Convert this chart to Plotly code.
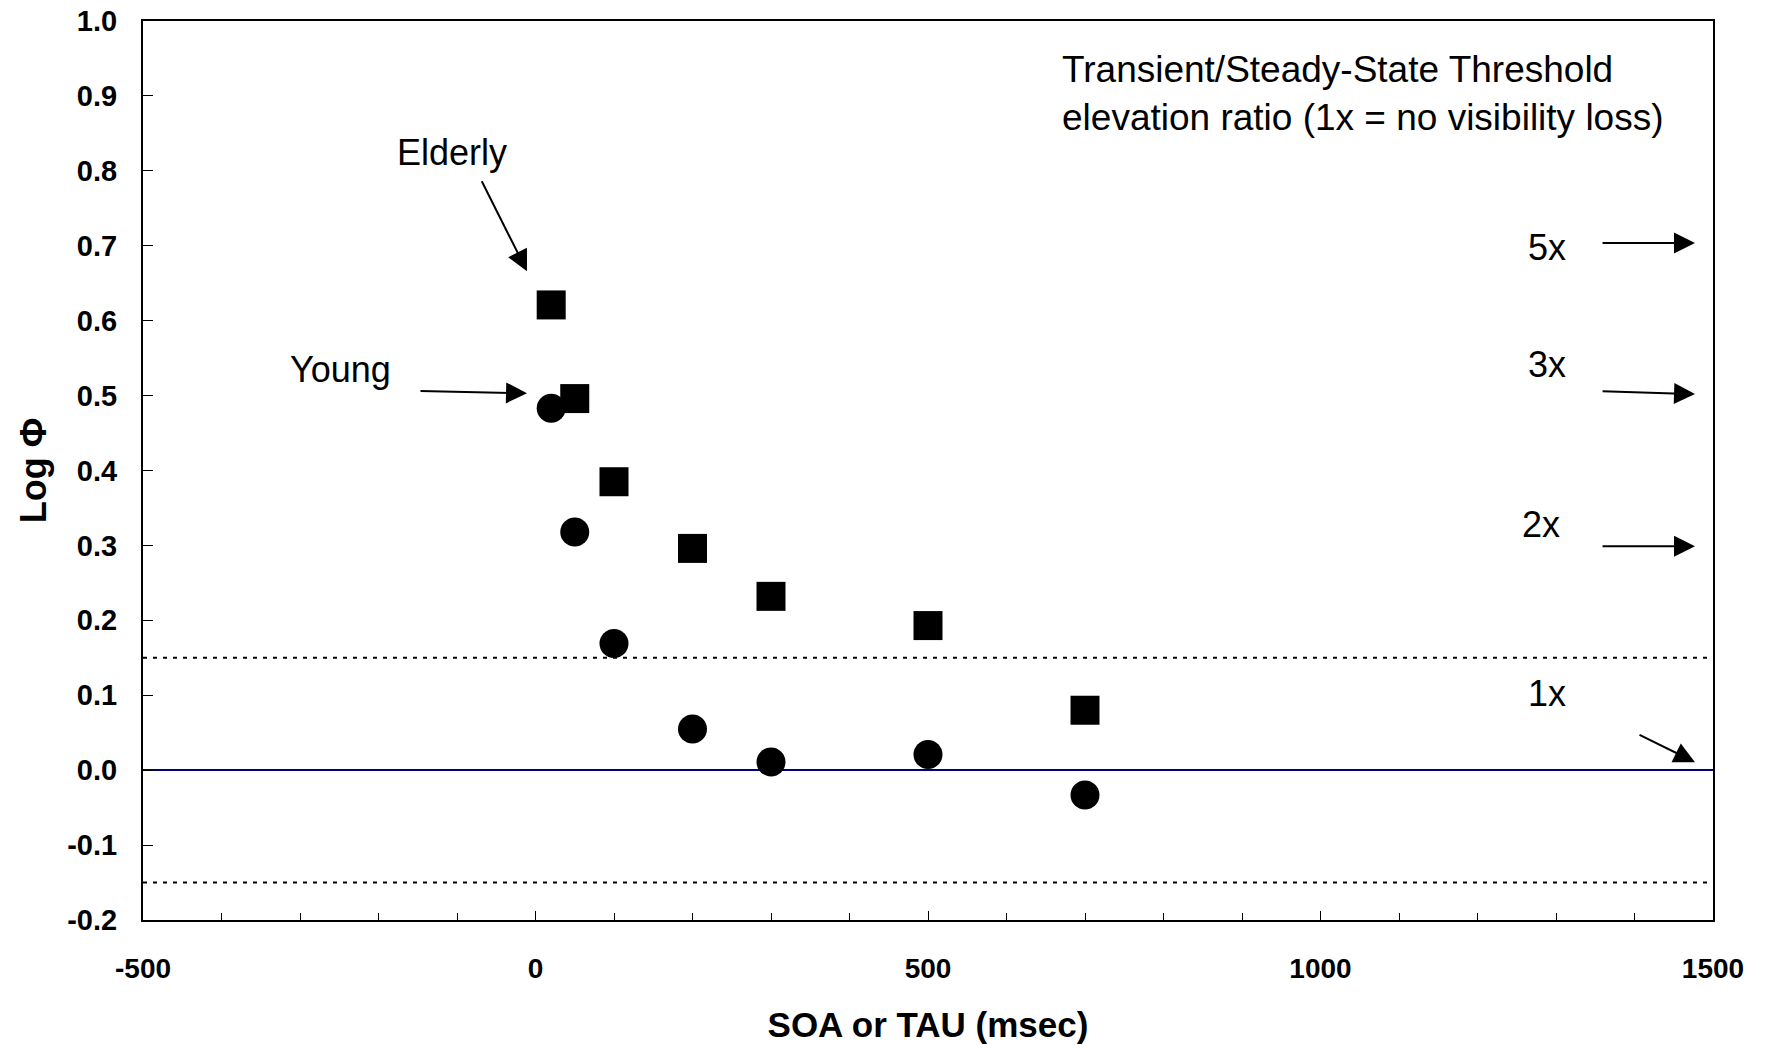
import plotly.graph_objects as go

# Stimulus onset asynchrony / tau values (msec) and the measured Log Phi
soa_ms = [20, 50, 100, 200, 300, 500, 700]
elderly_log_phi = [0.621, 0.496, 0.385, 0.296, 0.232, 0.193, 0.080]
young_log_phi = [0.483, 0.318, 0.169, 0.055, 0.011, 0.021, -0.033]

# Axis ticks
x_tick_values = [-500, 0, 500, 1000, 1500]
x_tick_labels = ["-500", "0", "500", "1000", "1500"]
y_tick_values = [-0.2, -0.1, 0.0, 0.1, 0.2, 0.3, 0.4, 0.5, 0.6, 0.7, 0.8, 0.9, 1.0]
y_tick_labels = ["-0.2", "-0.1", "0.0", "0.1", "0.2", "0.3", "0.4",
                 "0.5", "0.6", "0.7", "0.8", "0.9", "1.0"]

# No-loss band limits (Log Phi)
band_limits = [-0.15, 0.15]

# Threshold elevation ratio markers
ratio_labels = ["5x", "3x", "2x", "1x"]

FONT = "Liberation Sans, Arial, sans-serif"

fig = go.Figure()

fig.add_trace(go.Scatter(
    x=soa_ms, y=elderly_log_phi, mode="markers", name="Elderly",
    marker=dict(symbol="square", size=29, color="black"),
))
fig.add_trace(go.Scatter(
    x=soa_ms, y=young_log_phi, mode="markers", name="Young",
    marker=dict(symbol="circle", size=29, color="black"),
))

# Dotted band lines
for lim in band_limits:
    fig.add_shape(type="line", xref="x domain", yref="y", x0=0, x1=1, y0=lim, y1=lim,
                  line=dict(color="black", width=2, dash="4px,6px"), layer="below")

annotations = []

# Group labels with arrows
arrow_style = dict(showarrow=True, arrowhead=2, arrowsize=2.1, arrowwidth=2,
                   arrowcolor="black", axref="x", ayref="y", standoff=0, text="")
annotations.append(dict(x=-10.8, y=0.666, ax=-69.4, ay=0.788, **arrow_style))
annotations.append(dict(x=-10.8, y=0.503, ax=-148.4, ay=0.506, **arrow_style))

text_style = dict(showarrow=False, font=dict(family=FONT, size=36, color="black"),
                  xanchor="center", yanchor="middle")
annotations.append(dict(x=-106.4, y=0.824, text="Elderly", **text_style))
annotations.append(dict(x=-247.8, y=0.535, text="Young", **text_style))

# Ratio labels and arrows pointing to the right-hand axis
ratio_text_pos = [(1288.6, 0.698), (1288.6, 0.542), (1281.0, 0.328), (1288.6, 0.103)]
ratio_arrows = [((1357.4, 0.7036), (1477.1, 0.7036)),
                ((1357.4, 0.506), (1477.1, 0.502)),
                ((1357.4, 0.299), (1477.1, 0.299)),
                ((1404.5, 0.048), (1477.1, 0.0107))]
for label, (tx, ty), ((ax, ay), (hx, hy)) in zip(ratio_labels, ratio_text_pos, ratio_arrows):
    annotations.append(dict(x=tx, y=ty, text=label, **text_style))
    annotations.append(dict(x=hx, y=hy, ax=ax, ay=ay, **arrow_style))

annotations.append(dict(
    x=668.2, y=0.903, xanchor="left", yanchor="middle", align="left", showarrow=False,
    text="Transient/Steady-State Threshold<br>elevation ratio (1x = no visibility loss)",
    font=dict(family=FONT, size=37, color="black"),
))

tick_font = dict(family=FONT, size=28, color="black", weight="bold")
title_font = dict(family=FONT, size=35, color="black", weight="bold")

fig.update_layout(
    width=1772, height=1045,
    margin=dict(l=143, r=59, t=21, b=125),
    paper_bgcolor="white", plot_bgcolor="white",
    showlegend=False,
    annotations=annotations,
    font=dict(family=FONT, color="black"),
    xaxis=dict(
        range=[-500, 1500], tickmode="array", tickvals=x_tick_values, ticktext=x_tick_labels,
        ticks="inside", ticklen=9, tickwidth=1, tickcolor="black",
        minor=dict(tickmode="linear", tick0=-500, dtick=100, ticks="inside",
                   ticklen=7, tickwidth=1, tickcolor="black", showgrid=False),
        showline=True, linecolor="black", linewidth=2, mirror=True, automargin=False,
        showgrid=False, zeroline=False, tickfont=tick_font, ticklabelstandoff=22,
        title=dict(text="SOA or TAU (msec)", font=title_font, standoff=30),
    ),
    yaxis=dict(
        range=[-0.2, 1.0], tickmode="array", tickvals=y_tick_values, ticktext=y_tick_labels,
        ticks="inside", ticklen=10, tickwidth=1, tickcolor="black",
        showline=True, linecolor="black", linewidth=2, mirror=True, automargin=False,
        showgrid=False, zeroline=True, zerolinecolor="#000080", zerolinewidth=2,
        tickfont=dict(family=FONT, size=29, color="black", weight="bold"), ticklabelstandoff=18,
        title=dict(text="Log Φ", font=dict(family=FONT, size=36, color="black", weight="bold"),
                   standoff=10),
    ),
)

fig.write_html("out.html")
